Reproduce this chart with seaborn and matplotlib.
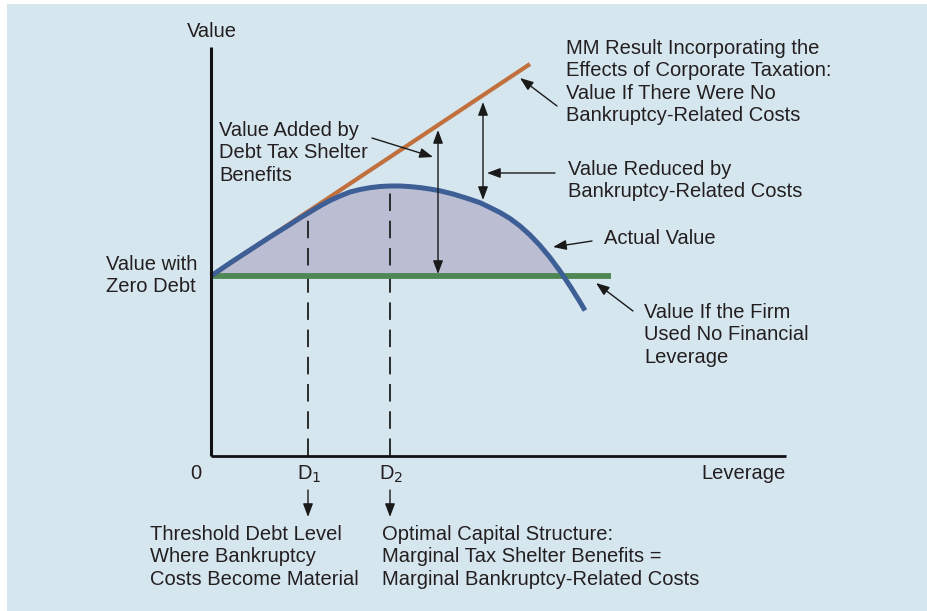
import numpy as np
import pandas as pd
import matplotlib
matplotlib.use("Agg")
import matplotlib.pyplot as plt
import seaborn as sns

sns.set_theme(style="white")
plt.rcParams['font.family'] = ['Liberation Sans', 'DejaVu Sans']
plt.rcParams['font.size'] = 14.5

BG = '#d6e6ef'
TXT = '#231f20'

# leverage / value (arbitrary units)
unlevered_value = 1.80
mm_leverage = [0.0, 3.19]
mm_value = [1.80, 3.92]
nolev_leverage = [0.0, 4.00]
nolev_value = [1.80, 1.80]
actual_leverage = [0.00, 0.19, 0.39, 0.59, 0.79, 0.89, 0.99, 1.09, 1.19, 1.29,
                   1.39, 1.49, 1.59, 1.69, 1.79, 1.89, 1.99, 2.09, 2.19, 2.29,
                   2.42, 2.56, 2.69, 2.79, 2.89, 2.99, 3.09, 3.19, 3.29, 3.39,
                   3.49, 3.59, 3.69, 3.74]
actual_value = [1.80, 1.93, 2.06, 2.19, 2.315, 2.38, 2.44, 2.50, 2.555, 2.60,
                2.64, 2.665, 2.683, 2.695, 2.70, 2.70, 2.694, 2.684, 2.67, 2.652,
                2.62, 2.577, 2.533, 2.485, 2.435, 2.375, 2.30, 2.21, 2.105, 1.985,
                1.85, 1.70, 1.54, 1.455]
d_levels = [0.97, 1.79]
d_values = [2.43, 2.70]
d_labels = ['D$_1$', 'D$_2$']
axis_x_end = 5.75
axis_y_end = 4.09

mm_df = pd.DataFrame({'Leverage': mm_leverage, 'Value': mm_value})
nolev_df = pd.DataFrame({'Leverage': nolev_leverage, 'Value': nolev_value})
actual_df = pd.DataFrame({'Leverage': actual_leverage, 'Value': actual_value})

fig = plt.figure(figsize=(9.27, 6.11), dpi=100, facecolor='white')
ax = fig.add_axes([7 / 927, 0, 920 / 927, 607 / 611])
ax.set_facecolor(BG)
ax.set_axis_off()
ax.add_patch(plt.Rectangle((0, 0), 1, 1, transform=ax.transAxes, color=BG, zorder=0))

# shaded area between actual value and unlevered value
av = np.array(actual_value)
ax.fill_between(actual_leverage, unlevered_value, av, where=av >= unlevered_value,
                interpolate=True, color='#bbbdd3', lw=0, zorder=1)

# dashed drop lines at D1 and D2
for d, v in zip(d_levels, d_values):
    ax.plot([d, d], [0, v], color='#2a2a2a', lw=1.4, dashes=(9, 5), zorder=2)

sns.lineplot(data=nolev_df, x='Leverage', y='Value', ax=ax, color='#4e8753', lw=4.2,
             solid_capstyle='butt', zorder=3)
sns.lineplot(data=mm_df, x='Leverage', y='Value', ax=ax, color='#c1703d', lw=3.0,
             solid_capstyle='butt', zorder=4)
sns.lineplot(data=actual_df, x='Leverage', y='Value', ax=ax, color='#3e5e96', lw=3.6,
             solid_capstyle='butt', zorder=5)
ax.set_xlim(-2.04, 7.16)
ax.set_ylim(-1.55, 4.52)

# axes lines
ax.plot([0, 0], [0, axis_y_end], color='#111111', lw=2.2, solid_capstyle='butt', zorder=6)
ax.plot([0, axis_x_end], [0, 0], color='#111111', lw=2.0, solid_capstyle='butt', zorder=6)


def arrow(start, end, style='-|>'):
    ax.annotate('', xy=end, xytext=start,
                arrowprops=dict(arrowstyle=f'{style},head_length=0.4,head_width=0.15',
                                color='#1a1a1a', lw=1.0, shrinkA=0, shrinkB=0,
                                mutation_scale=20), zorder=7)


arrow((1.61, 3.18), (2.22, 2.99))
arrow((2.27, 1.82), (2.27, 3.26), '<|-|>')
arrow((2.72, 3.54), (2.72, 2.56), '<|-|>')
arrow((3.46, 3.50), (3.09, 3.78))
arrow((3.44, 2.83), (2.76, 2.83))
arrow((3.81, 2.15), (3.42, 2.09))
arrow((4.22, 1.45), (3.85, 1.73))
for d in d_levels:
    arrow((d, -0.34), (d, -0.61))

kw = dict(color=TXT, fontsize=14.5, va='top', linespacing=1.22)
ax.text(0.01, 4.34, 'Value', ha='center', **kw)
ax.text(-1.05, 2.01, 'Value with\nZero Debt', ha='left', **kw)
ax.text(0.08, 3.35, 'Value Added by\nDebt Tax Shelter\nBenefits', ha='left', **kw)
ax.text(3.55, 4.17, 'MM Result Incorporating the\nEffects of Corporate Taxation:\n'
        'Value If There Were No\nBankruptcy-Related Costs', ha='left', **kw)
ax.text(3.57, 2.96, 'Value Reduced by\nBankruptcy-Related Costs', ha='left', **kw)
ax.text(3.93, 2.27, 'Actual Value', ha='left', **kw)
ax.text(4.33, 1.53, 'Value If the Firm\nUsed No Financial\nLeverage', ha='left', **kw)
ax.text(-0.15, -0.08, '0', ha='center', **kw)
for d, lab in zip(d_levels, d_labels):
    ax.text(d - 0.11, -0.08, lab, ha='left', **kw)
ax.text(axis_x_end, -0.08, 'Leverage', ha='right', **kw)
ax.text(-0.61, -0.69, 'Threshold Debt Level\nWhere Bankruptcy\nCosts Become Material',
        ha='left', **kw)
ax.text(1.71, -0.69, 'Optimal Capital Structure:\nMarginal Tax Shelter Benefits =\n'
        'Marginal Bankruptcy-Related Costs', ha='left', **kw)

fig.savefig('out.png', dpi=100, facecolor='white')
